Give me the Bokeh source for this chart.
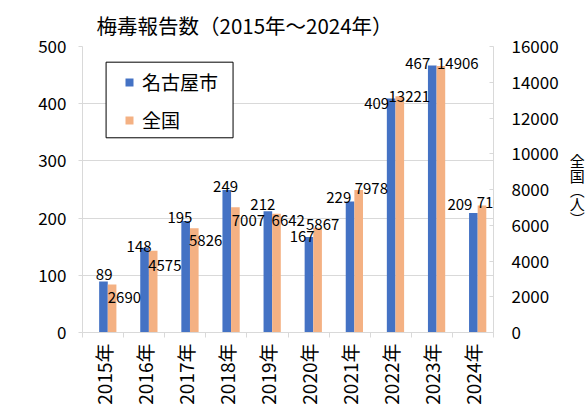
import math
import numpy as np
from bokeh.plotting import figure
from bokeh.models import (Range1d, LinearAxis, FixedTicker, SingleIntervalTicker,
                          ColumnDataSource, Legend, LegendItem, Label, BoxAnnotation)
from bokeh.embed import file_html
from bokeh.resources import INLINE

# ---- data ----
years = ["2015年", "2016年", "2017年", "2018年", "2019年",
         "2020年", "2021年", "2022年", "2023年", "2024年"]
nagoya = [89, 148, 195, 249, 212, 167, 229, 409, 467, 209]
national = [2690, 4575, 5826, 7007, 6642, 5867, 7978, 13221, 14906, 7101]

# ---- label nudges (screen px, style only; +dy = downward) ----
nagoya_label_dx = [0.7, -5.5, -5.7, -1.2, -5.0, -6.8, -11.3, -14.5, -14.5, -13.4]
nagoya_label_dy = [-6.7, -1.7, -3.3, -4.0, -6.7, 0.0, -4.3, 5.0, -1.7, -8.0]
national_label_dx = [0.0, -0.7, -1.0, 0.7, -0.6, -7.3, 0.3, -7.0, 0.4, -1.0]
national_label_dy = [12.7, 14.3, 12.3, 13.2, 6.7, -2.8, -1.1, 0.0, -2.3, -3.4]

FONT = "Noto Sans CJK JP"
BLUE = "#4472C4"
ORANGE = "#F4B183"
GRID = "#d9d9d9"
BAR_W = 0.21
idx = np.arange(len(years))

src = ColumnDataSource(dict(
    x_n=idx + 0.01,
    x_j=idx + 0.01 + BAR_W,
    nagoya=nagoya,
    national=national,
))

p = figure(width=587, height=408, output_backend="svg", toolbar_location=None,
           x_range=Range1d(-0.5, len(years) - 0.5), y_range=Range1d(0, 500),
           min_border_left=82, min_border_right=92, min_border_top=46,
           min_border_bottom=76, x_axis_location=None, y_axis_location=None)
p.extra_y_ranges = {"nat": Range1d(0, 16000)}
p.outline_line_color = None
p.background_fill_color = "white"
p.xgrid.visible = False
p.ygrid.grid_line_color = GRID
p.ygrid.ticker = SingleIntervalTicker(interval=100)

p.title.text = "梅毒報告数（2015年～2024年）"
p.title.align = "left"
p.title.offset = 14
p.title.standoff = 14
p.title.text_font = FONT
p.title.text_font_size = "20.5px"
p.title.text_font_style = "normal"
p.title.text_color = "black"

AXIS_PROPS = LinearAxis.properties()


def clear_axis_bg(ax):
    if "background_fill_alpha" in AXIS_PROPS:
        ax.background_fill_alpha = 0.0


# axes
xaxis = LinearAxis(ticker=FixedTicker(ticks=list(idx),
                                      minor_ticks=[i - 0.5 for i in range(len(years) + 1)]))
xaxis.major_label_overrides = {int(i): y for i, y in zip(idx, years)}
xaxis.major_label_orientation = math.pi / 2
xaxis.major_tick_line_color = None
xaxis.major_tick_out = 0
xaxis.major_tick_in = 0
xaxis.minor_tick_out = 5
xaxis.minor_tick_in = 0
xaxis.minor_tick_line_color = GRID
xaxis.axis_line_color = GRID
xaxis.major_label_standoff = 6
xaxis.major_label_text_font = FONT
xaxis.major_label_text_font_size = "19px"
xaxis.major_label_text_color = "black"
clear_axis_bg(xaxis)
p.add_layout(xaxis, "below")

yl = LinearAxis(ticker=SingleIntervalTicker(interval=100))
yl.axis_line_color = GRID
yl.major_tick_line_color = GRID
yl.major_tick_out = 4
yl.major_tick_in = 0
yl.minor_tick_line_color = None
yl.major_label_standoff = 12
yl.major_label_text_font = FONT
yl.major_label_text_font_size = "17px"
yl.major_label_text_color = "black"
clear_axis_bg(yl)
p.add_layout(yl, "left")

yr = LinearAxis(y_range_name="nat", ticker=SingleIntervalTicker(interval=2000))
yr.axis_line_color = GRID
yr.major_tick_line_color = GRID
yr.major_tick_out = 0
yr.major_tick_in = 4
yr.minor_tick_line_color = None
yr.major_label_standoff = 14
yr.major_label_text_font = FONT
yr.major_label_text_font_size = "17px"
yr.major_label_text_color = "black"
clear_axis_bg(yr)

RIGHT_TITLE = "全\n国\n︵\n人\n︶"
if "axis_label_orientation" in AXIS_PROPS:
    yr.axis_label = RIGHT_TITLE
    yr.axis_label_orientation = "horizontal"
    yr.axis_label_standoff = 8
    yr.axis_label_text_font = FONT
    yr.axis_label_text_font_size = "15px"
    yr.axis_label_text_font_style = "normal"
    yr.axis_label_text_line_height = 0.68
    yr.axis_label_text_color = "black"
else:
    p.add_layout(Label(x=11.24, y=310, text=RIGHT_TITLE,
                       text_align="center", text_baseline="top",
                       text_font=FONT, text_font_size="14px", text_line_height=1.05,
                       text_color="black"))
p.add_layout(yr, "right")

# bars
r1 = p.vbar(x="x_n", top="nagoya", width=BAR_W, source=src,
            fill_color=BLUE, line_color=None)
r2 = p.vbar(x="x_j", top="national", width=BAR_W, source=src,
            fill_color=ORANGE, line_color=None, y_range_name="nat")

# data labels
for i in range(len(years)):
    p.add_layout(Label(x=idx[i] + 0.01, y=nagoya[i], text=str(nagoya[i]),
                       x_offset=nagoya_label_dx[i], y_offset=-nagoya_label_dy[i],
                       text_align="center", text_baseline="alphabetic",
                       text_font=FONT, text_font_size="15px", text_color="black"))
    p.add_layout(Label(x=idx[i] + 0.01 + BAR_W / 2, y=national[i], text=str(national[i]),
                       x_offset=national_label_dx[i], y_offset=-national_label_dy[i],
                       text_align="left", text_baseline="alphabetic",
                       text_font=FONT, text_font_size="15px", text_color="black",
                       y_range_name="nat", level="overlay"))

# left vertical axis title
p.add_layout(Label(x=-2.06, y=348, text="名\n古\n屋\n市\n︵\n人\n︶",
                   text_align="center", text_baseline="top",
                   text_font=FONT, text_font_size="16px", text_line_height=1.0,
                   text_color="black"))

# legend frame + legend
p.add_layout(BoxAnnotation(left=0.074, right=3.163, top=472.6, bottom=340.4,
                           fill_color="white", fill_alpha=1.0,
                           line_color="black", line_width=1, line_alpha=1.0))
legend = Legend(items=[LegendItem(label="名古屋市", renderers=[r1]),
                       LegendItem(label="全国", renderers=[r2])],
                location=(42, 197.3))
legend.border_line_color = None
legend.background_fill_alpha = 0.0
legend.padding = 0
legend.spacing = 8
legend.margin = 0
legend.glyph_width = 10
legend.glyph_height = 10
legend.label_height = 30
legend.label_standoff = 8
legend.label_text_font = FONT
legend.label_text_font_size = "19px"
legend.label_text_color = "black"
p.add_layout(legend, "center")

open("out.html", "w").write(file_html(p, INLINE))
